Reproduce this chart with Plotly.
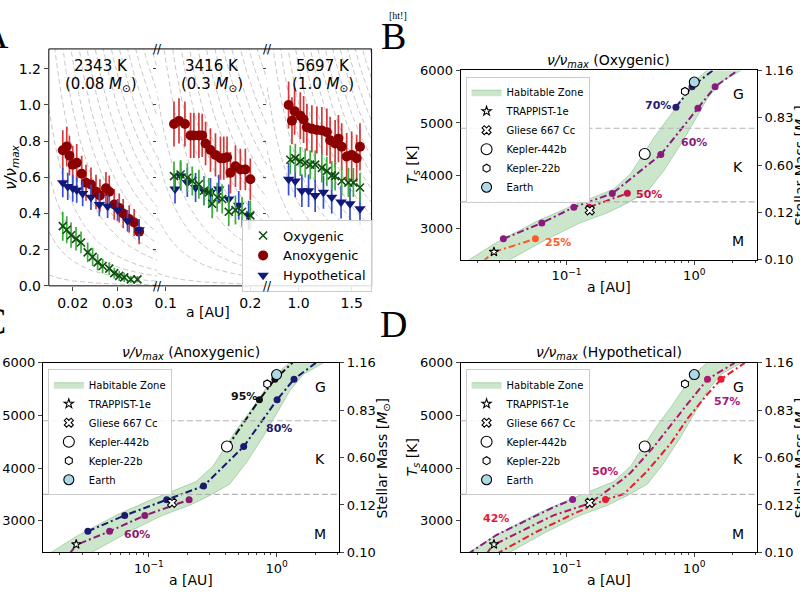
import math
import numpy as np
import plotly.graph_objects as go

W, H = 800, 600
def PX(x): return x / W
def PY(y): return 1 - y / H

FONT = "DejaVu Sans"

# ---------------- Panel A data ----------------
host_temp = ["2343 K", "3416 K", "5697 K"]
host_mass = ["0.08", "0.3", "1.0"]

s1_anox_a = [0.01778, 0.01867, 0.01926, 0.0200, 0.02089, 0.0220, 0.02296, 0.02407, 0.02519,
             0.02607, 0.02741, 0.02815, 0.02926, 0.03037, 0.03126, 0.03259, 0.0337, 0.03481]
s1_anox_nu = [0.75, 0.77, 0.72, 0.67, 0.68, 0.62, 0.57, 0.56, 0.52, 0.50, 0.54, 0.52, 0.45,
              0.43, 0.40, 0.37, 0.35, 0.30]
s1_anox_err = [0.11, 0.11, 0.11, 0.105, 0.105, 0.10, 0.10, 0.095, 0.095, 0.09, 0.09, 0.09,
               0.085, 0.08, 0.08, 0.075, 0.075, 0.07]
s1_hypo_a = [0.01778, 0.01889, 0.0200, 0.02089, 0.02222, 0.02407, 0.02593, 0.02778, 0.0300,
             0.03222, 0.03481]
s1_hypo_nu = [0.57, 0.55, 0.54, 0.53, 0.51, 0.49, 0.45, 0.44, 0.42, 0.36, 0.31]
s1_hypo_err = [0.08, 0.075, 0.075, 0.07, 0.07, 0.07, 0.065, 0.065, 0.06, 0.06, 0.055]
s1_oxy_a = [0.01778, 0.01867, 0.01963, 0.02074, 0.02185, 0.02333, 0.02444, 0.02556, 0.02667,
            0.02815, 0.02926, 0.03037, 0.03148, 0.03296, 0.03444]
s1_oxy_nu = [0.33, 0.31, 0.28, 0.26, 0.24, 0.185, 0.16, 0.13, 0.11, 0.095, 0.07, 0.055,
             0.047, 0.036, 0.036]
s1_oxy_err = [0.08, 0.075, 0.07, 0.065, 0.06, 0.055, 0.05, 0.045, 0.04, 0.035, 0.03, 0.028,
              0.025, 0.02, 0.018]

s2_anox_a = [0.1098, 0.1157, 0.1227, 0.1294, 0.1333, 0.1392, 0.1431, 0.1471, 0.1529, 0.1588,
             0.1647, 0.1686, 0.1725, 0.1765, 0.1824, 0.1882, 0.1941, 0.2000]
s2_anox_nu = [0.895, 0.912, 0.895, 0.832, 0.832, 0.832, 0.832, 0.787, 0.751, 0.724, 0.706,
              0.706, 0.711, 0.625, 0.661, 0.643, 0.643, 0.589]
s2_anox_err = [0.125] * 6 + [0.12] * 6 + [0.115] * 6
s2_oxy_a = [0.1098, 0.1176, 0.1255, 0.1314, 0.1392, 0.1451, 0.1510, 0.1549, 0.1608, 0.1667,
            0.1745, 0.1824, 0.1902, 0.2000]
s2_oxy_nu = [0.607, 0.616, 0.598, 0.58, 0.562, 0.526, 0.517, 0.454, 0.49, 0.48, 0.41, 0.419,
             0.41, 0.39]
s2_oxy_err = [0.08] * 14
s2_hypo_a = [0.1110, 0.1176, 0.1255, 0.1353, 0.1451, 0.1529, 0.1627, 0.1745, 0.1863, 0.1980]
s2_hypo_nu = [0.535, 0.607, 0.571, 0.544, 0.526, 0.517, 0.535, 0.48, 0.445, 0.39]
s2_hypo_err = [0.08] * 10

s3_anox_a = [0.906, 0.9375, 0.9625, 1.016, 1.047, 1.078, 1.125, 1.172, 1.219, 1.266, 1.297,
             1.344, 1.375, 1.406, 1.453, 1.500, 1.547, 1.578]
s3_anox_nu = [1.0, 0.913, 0.966, 0.94, 0.92, 0.877, 0.868, 0.862, 0.859, 0.85, 0.805, 0.787,
              0.814, 0.769, 0.715, 0.724, 0.706, 0.769]
s3_anox_err = [0.13] * 18
s3_oxy_a = [0.922, 0.969, 1.016, 1.0625, 1.109, 1.156, 1.219, 1.266, 1.3125, 1.344, 1.406,
            1.469, 1.516, 1.578]
s3_oxy_nu = [0.697, 0.706, 0.688, 0.679, 0.67, 0.67, 0.652, 0.634, 0.611, 0.607, 0.58, 0.571,
             0.571, 0.544]
s3_oxy_err = [0.08] * 14
s3_hypo_a = [0.906, 0.968, 1.031, 1.094, 1.156, 1.234, 1.312, 1.40, 1.484, 1.578]
s3_hypo_nu = [0.589, 0.58, 0.526, 0.526, 0.499, 0.517, 0.49, 0.463, 0.454, 0.427]
s3_hypo_err = [0.09] * 10

# decorative guide curves in panel A: where each dashed curve meets the top / left edge
guide_top_1 = [0.0160, 0.0178, 0.0196, 0.0214, 0.0232, 0.0250, 0.0268, 0.0286, 0.0304,
               0.0322, 0.0340, 0.0358, 0.0376]
guide_left_1 = [0.06, 0.30, 0.62, 0.98]
guide_top_2 = [0.098, 0.108, 0.118, 0.128, 0.138, 0.148, 0.158, 0.168, 0.178, 0.188,
               0.198, 0.208, 0.218]
guide_left_2 = [0.07, 0.38, 0.72, 1.05]
guide_top_3 = [0.76, 0.83, 0.90, 0.97, 1.04, 1.11, 1.18, 1.25, 1.32, 1.39, 1.46, 1.53,
               1.60, 1.67]
guide_left_3 = [0.08, 0.40, 0.75, 1.10]

# ---------------- Panels B-D data ----------------
hz_inner_a = [0.0150, 0.0164, 0.0282, 0.0583, 0.107, 0.163, 0.2345, 0.317, 0.484, 0.655,
              0.834, 1.06, 1.27, 1.40]
hz_inner_T = [2300, 2368, 2729, 3131, 3411, 3598, 3745, 4037, 4723, 5159, 5533, 5844, 6000, 6100]
hz_outer_a = [0.031, 0.0339, 0.070, 0.128, 0.2075, 0.2985, 0.4287, 0.58, 0.785, 1.0, 1.27,
              1.62, 2.33, 2.60]
hz_outer_T = [2300, 2368, 2791, 3103, 3290, 3477, 3695, 4100, 4598, 5034, 5470, 5781, 6000, 6100]

planet_names = ["TRAPPIST-1e", "Gliese 667 Cc", "Kepler-442b", "Kepler-22b", "Earth"]
planet_a = [0.027, 0.152, 0.409, 0.845, 1.0]
planet_T = [2550, 3340, 4410, 5600, 5778]

class_boundaries_T = [4900, 3500]
class_labels = ["G", "K", "M"]
class_label_T = [5550, 4170, 2750]
class_label_a = 2.2

mass_tick_T = [6000, 5100, 4200, 3300, 2400]
mass_tick_text = ["1.16", "0.83", "0.60", "0.12", "0.10"]

# Oxygenic
oxy25_a = [0.0222, 0.027, 0.057]; oxy25_T = [2369, 2550, 2800]
oxy25_dot_a = [0.057]; oxy25_dot_T = [2800]
oxy50_a = [0.150, 0.299]; oxy50_T = [3400, 3664]
oxy50_dot_a = [0.150, 0.299]; oxy50_dot_T = [3400, 3664]
oxy60_a = [0.032, 0.064, 0.114, 0.228, 0.547, 1.069, 1.456, 2.19]
oxy60_T = [2800, 3100, 3400, 3660, 4400, 5280, 5690, 6000]
oxy60_dot_a = [0.032, 0.064, 0.114, 0.228, 0.547, 1.069, 1.456]
oxy60_dot_T = [2800, 3100, 3400, 3660, 4400, 5280, 5690]
oxy70_a = [0.718, 0.96, 1.40]; oxy70_T = [5300, 5690, 6000]
oxy70_dot_a = [0.718, 0.96]; oxy70_dot_T = [5300, 5690]

# Anoxygenic
anox60_a = [0.0239, 0.027, 0.0493, 0.093, 0.2066]; anox60_T = [2368, 2540, 2800, 3100, 3400]
anox60_dot_a = [0.0493, 0.093, 0.2066]; anox60_dot_T = [2800, 3100, 3400]
anox80_a = [0.0333, 0.0647, 0.138, 0.268, 0.553, 1.01, 1.37, 2.03]
anox80_T = [2800, 3100, 3400, 3660, 4410, 5300, 5690, 6000]
anox80_dot_a = [0.0333, 0.0647, 0.138, 0.268, 0.553, 1.01, 1.37]
anox80_dot_T = [2800, 3100, 3400, 3660, 4410, 5300, 5690]
anox95_a = [0.41, 0.734, 0.97, 1.33]; anox95_T = [4400, 5300, 5690, 6000]
anox95_dot_a = [0.41, 0.734, 0.97]; anox95_dot_T = [4400, 5300, 5690]

# Hypothetical
hypP_a = [0.0169, 0.0282, 0.0518, 0.079, 0.1115]; hypP_T = [2368, 2729, 3040, 3258, 3402]
hypP_dot_a = [0.1115]; hypP_dot_T = [3402]
hypM_a = [0.0236, 0.0263, 0.0432, 0.079, 0.152, 0.265, 0.317, 0.484, 0.885, 1.27, 2.07]
hypM_T = [2368, 2530, 2791, 3103, 3333, 3757, 3912, 4411, 5221, 5690, 6000]
hypM_dot_a = [1.27]; hypM_dot_T = [5690]
hypR_a = [0.0282, 0.0583, 0.107, 0.2018, 0.281, 0.428, 0.655, 0.885, 1.27, 1.62, 2.48]
hypR_T = [2368, 2791, 3103, 3402, 3508, 3944, 4473, 4940, 5408, 5690, 6000]
hypR_dot_a = [0.2018, 1.62]; hypR_dot_T = [3402, 5690]

# ---------------- figure ----------------
fig = go.Figure()
layout = dict(width=W, height=H, margin=dict(l=0, r=0, t=0, b=0),
              paper_bgcolor="white", plot_bgcolor="white",
              font=dict(family=FONT, size=13, color="black"), showlegend=True)
ann = []
shapes = []

# Panel A axes
segs = [("x", "y", [0.01467, 0.03889], [46, 155], [0.02, 0.03], ["0.02", "0.03"]),
        ("x2", "y2", [0.0902, 0.2197], [155, 265], [0.1, 0.2], ["0.1", "0.2"]),
        ("x3", "y3", [0.7026, 1.6876], [265, 370], [1.0, 1.5], ["1.0", "1.5"])]
A_top, A_bot = 43, 286
for i, (xa, ya, xr, dom, tv, tt) in enumerate(segs):
    xk = "xaxis" if i == 0 else "xaxis%d" % (i + 1)
    yk = "yaxis" if i == 0 else "yaxis%d" % (i + 1)
    layout[xk] = dict(domain=[PX(dom[0]), PX(dom[1])], range=xr, anchor=ya,
                      tickvals=tv, ticktext=tt, ticks="outside", ticklen=4,
                      showgrid=False, zeroline=False, showline=False,
                      tickfont=dict(size=14))
    ydict = dict(domain=[PY(A_bot), PY(A_top)], range=[0, 1.31], anchor=xa,
                 tickvals=[0, 0.2, 0.4, 0.6, 0.8, 1.0, 1.2],
                 ticks="outside", showgrid=False, zeroline=False, showline=False,
                 tickfont=dict(size=14))
    if i == 0:
        ydict.update(ticktext=["0.0", "0.2", "0.4", "0.6", "0.8", "1.0", "1.2"], ticklen=4)
    else:
        ydict.update(showticklabels=False, ticklen=3, matches="y")
    layout[yk] = ydict

guides = [(guide_top_1, guide_left_1), (guide_top_2, guide_left_2), (guide_top_3, guide_left_3)]
NPOW = 2.5
for (xa, ya, xr, dom, tv, tt), (gt, gl) in zip(segs, guides):
    xs = np.linspace(xr[0], xr[1], 120)
    consts = [1.31 * t ** NPOW for t in gt] + [v * xr[0] ** NPOW for v in gl]
    for c in consts:
        fig.add_trace(go.Scatter(x=xs, y=c / xs ** NPOW, mode="lines", xaxis=xa, yaxis=ya,
                                 line=dict(color="#c8c8c8", width=1, dash="5px,3px"),
                                 showlegend=False, hoverinfo="skip"))

A_series = [
    ("Anoxygenic", "circle", "#8b0000", "#d43a3a", 10, 2,
     [(s1_anox_a, s1_anox_nu, s1_anox_err), (s2_anox_a, s2_anox_nu, s2_anox_err),
      (s3_anox_a, s3_anox_nu, s3_anox_err)]),
    ("Hypothetical", "triangle-down", "#10187a", "#3a4ed0", 10, 3,
     [(s1_hypo_a, s1_hypo_nu, s1_hypo_err), (s2_hypo_a, s2_hypo_nu, s2_hypo_err),
      (s3_hypo_a, s3_hypo_nu, s3_hypo_err)]),
    ("Oxygenic", "x-thin", "#124d12", "#3cae3c", 8, 1,
     [(s1_oxy_a, s1_oxy_nu, s1_oxy_err), (s2_oxy_a, s2_oxy_nu, s2_oxy_err),
      (s3_oxy_a, s3_oxy_nu, s3_oxy_err)]),
]
for name, sym, mc, ec, sz, rank, parts in A_series:
    for j, ((xa, ya, *_), (xv, yv, ev)) in enumerate(zip(segs, parts)):
        fig.add_trace(go.Scatter(
            x=xv, y=yv, mode="markers", xaxis=xa, yaxis=ya, name=name,
            marker=dict(symbol=sym, color=mc, size=sz,
                        line=dict(color=mc, width=1.6 if sym == "x-thin" else 0)),
            error_y=dict(type="data", array=ev, color=ec, thickness=1.7, width=0),
            showlegend=(j == 0), legend="legend", legendrank=rank))

layout["legend"] = dict(x=PX(240), y=PY(218), xanchor="left", yanchor="top",
                        bgcolor="rgba(255,255,255,0.85)", bordercolor="#cccccc", borderwidth=1,
                        font=dict(size=13), tracegroupgap=0)

shapes.append(dict(type="rect", xref="paper", yref="paper", x0=PX(46), x1=PX(370),
                   y0=PY(A_bot), y1=PY(A_top), line=dict(color="black", width=1), layer="above"))
for bx in [155, 265]:
    for by in [A_top, A_bot]:
        ann.append(dict(xref="paper", yref="paper", x=PX(bx), y=PY(by), text="//",
                        showarrow=False, font=dict(size=12), xanchor="center", yanchor="middle"))
seg_centers = [98, 210, 321]
for cx, t, m in zip(seg_centers, host_temp, host_mass):
    ann.append(dict(xref="paper", yref="paper", x=PX(cx), y=PY(61), text=t, showarrow=False,
                    font=dict(size=15), xanchor="center", yanchor="middle"))
    ann.append(dict(xref="paper", yref="paper", x=PX(cx), y=PY(80),
                    text="(%s <i>M</i><sub>⊙</sub>)" % m, showarrow=False,
                    font=dict(size=15), xanchor="center", yanchor="middle"))
ann.append(dict(xref="paper", yref="paper", x=PX(9), y=PY(164),
                text="<i>ν/ν<sub>max</sub></i>", textangle=-90, showarrow=False,
                font=dict(size=15), xanchor="center", yanchor="middle"))
ann.append(dict(xref="paper", yref="paper", x=PX(206), y=PY(313), text="a [AU]",
                showarrow=False, font=dict(size=14), xanchor="center", yanchor="middle"))

# Panels B, C, D
minor_vals = [0.02, 0.03, 0.04, 0.05, 0.06, 0.07, 0.08, 0.09,
              0.2, 0.3, 0.4, 0.5, 0.6, 0.7, 0.8, 0.9, 2, 3]
panels = [
    dict(xa="x4", ya="y4", yr="y5", leg="legend2", left=459.3, top=65, title="Oxygenic",
         lines=[(oxy25_a, oxy25_T, oxy25_dot_a, oxy25_dot_T, "#ff5a24"),
                (oxy50_a, oxy50_T, oxy50_dot_a, oxy50_dot_T, "#c8124e"),
                (oxy60_a, oxy60_T, oxy60_dot_a, oxy60_dot_T, "#8a1a80"),
                (oxy70_a, oxy70_T, oxy70_dot_a, oxy70_dot_T, "#2c1a70")],
         labels=[(0.0863, 2730, "25%", "#ff5a24"), (0.442, 3649, "50%", "#c8124e"),
                 (0.987, 4636, "60%", "#8a1a80"), (0.52, 5336, "70%", "#2c1a70")],
         ltitle=True),
    dict(xa="x6", ya="y6", yr="y7", leg="legend3", left=40, top=365, title="Anoxygenic",
         lines=[(anox60_a, anox60_T, anox60_dot_a, anox60_dot_T, "#8b1a72"),
                (anox80_a, anox80_T, anox80_dot_a, anox80_dot_T, "#1b1a6e"),
                (anox95_a, anox95_T, anox95_dot_a, anox95_dot_T, "#111111")],
         labels=[(0.0805, 2744, "60%", "#8b1a72"), (1.037, 4761, "80%", "#1b1a6e"),
                 (0.552, 5355, "95%", "#111111")],
         ltitle=False),
    dict(xa="x8", ya="y8", yr="y9", leg="legend4", left=459.3, top=365, title="Hypothetical",
         lines=[(hypP_a, hypP_T, hypP_dot_a, hypP_dot_T, "#8b1a8b"),
                (hypM_a, hypM_T, hypM_dot_a, hypM_dot_T, "#b5166c"),
                (hypR_a, hypR_T, hypR_dot_a, hypR_dot_T, "#e81a36")],
         labels=[(0.0279, 3037, "42%", "#e81a36"), (0.1997, 3944, "50%", "#b5166c"),
                 (1.789, 5258, "57%", "#a3197a")],
         ltitle=True),
]
PW, PH = 297.4, 194.3
planet_sym = ["star", "x", "circle", "hexagon", "circle"]
planet_fill = ["white", "white", "white", "white", "#add8e6"]
planet_size = [7, 8, 11, 8, 10]

for p in panels:
    xa, ya, yr = p["xa"], p["ya"], p["yr"]
    l, t = p["left"], p["top"]
    r, b = l + PW, t + PH
    n = xa[1:]
    layout["xaxis" + n] = dict(domain=[PX(l), PX(r)], type="log", range=[-1.83, 0.49], anchor=ya,
                               tickvals=[0.1, 1], ticktext=["10<sup>−1</sup>", "10<sup>0</sup>"],
                               ticks="outside", ticklen=4, showline=True, mirror=True,
                               linecolor="black", linewidth=1, showgrid=False, zeroline=False,
                               minor=dict(tickvals=minor_vals, ticks="outside", ticklen=2,
                                          showgrid=False),
                               tickfont=dict(size=13))
    layout["yaxis" + ya[1:]] = dict(domain=[PY(b), PY(t)], range=[2400, 6000], anchor=xa,
                                    tickvals=[3000, 4000, 5000, 6000], ticks="outside", ticklen=4,
                                    showline=True, mirror=True, linecolor="black", linewidth=1,
                                    showgrid=False, zeroline=False, tickfont=dict(size=13))
    layout["yaxis" + yr[1:]] = dict(overlaying=ya, side="right", anchor=xa, range=[2400, 6000],
                                    tickvals=mass_tick_T, ticktext=mass_tick_text, ticks="outside",
                                    ticklen=4, showgrid=False, zeroline=False, showline=False,
                                    tickfont=dict(size=13))
    fig.add_trace(go.Scatter(x=[None], y=[None], xaxis=xa, yaxis=yr, showlegend=False,
                             hoverinfo="skip"))
    # habitable zone
    fig.add_trace(go.Scatter(x=hz_inner_a + hz_outer_a[::-1], y=hz_inner_T + hz_outer_T[::-1],
                             mode="lines", fill="toself", fillcolor="rgba(0,128,0,0.2)",
                             line=dict(color="rgba(0,128,0,0.25)", width=1),
                             xaxis=xa, yaxis=ya, name="Habitable Zone", legend=p["leg"]))
    for (la, lT, da, dT, col) in p["lines"]:
        fig.add_trace(go.Scatter(x=la, y=lT, mode="lines", xaxis=xa, yaxis=ya,
                                 line=dict(color=col, width=2, dash="7px,3px,2px,3px"),
                                 showlegend=False, hoverinfo="skip"))
        fig.add_trace(go.Scatter(x=da, y=dT, mode="markers", xaxis=xa, yaxis=ya,
                                 marker=dict(color=col, size=7), showlegend=False,
                                 hoverinfo="skip"))
    for nm, a, T, sym, fc, sz in zip(planet_names, planet_a, planet_T, planet_sym,
                                     planet_fill, planet_size):
        fig.add_trace(go.Scatter(x=[a], y=[T], mode="markers", xaxis=xa, yaxis=ya, name=nm,
                                 marker=dict(symbol=sym, color=fc, size=sz,
                                             line=dict(color="black", width=1.1)),
                                 legend=p["leg"]))
    for yv in class_boundaries_T:
        shapes.append(dict(type="line", xref=xa + " domain", yref=ya, x0=0, x1=1, y0=yv, y1=yv,
                           line=dict(color="#b4b4b4", width=1.2, dash="6px,3px"), layer="above"))
    for lab, T in zip(class_labels, class_label_T):
        ann.append(dict(xref=xa, yref=ya, x=math.log10(class_label_a), y=T, text=lab,
                        showarrow=False, font=dict(size=14), xanchor="center", yanchor="middle"))
    for (a, T, txt, col) in p["labels"]:
        ann.append(dict(xref=xa, yref=ya, x=math.log10(a), y=T, text="<b>%s</b>" % txt,
                        showarrow=False, font=dict(size=11, color=col),
                        xanchor="center", yanchor="middle"))
    cx = (l + r) / 2
    ann.append(dict(xref="paper", yref="paper", x=PX(cx), y=PY(t - 10),
                    text="<i>ν/ν<sub>max</sub></i> (%s)" % p["title"], showarrow=False,
                    font=dict(size=14), xanchor="center", yanchor="middle"))
    ann.append(dict(xref="paper", yref="paper", x=PX(cx), y=PY(b + 28), text="a [AU]",
                    showarrow=False, font=dict(size=14), xanchor="center", yanchor="middle"))
    if p["ltitle"]:
        ann.append(dict(xref="paper", yref="paper", x=PX(l - 48), y=PY((t + b) / 2),
                        text="<i>T<sub>s</sub></i> [K]", textangle=-90, showarrow=False,
                        font=dict(size=14), xanchor="center", yanchor="middle"))
    ann.append(dict(xref="paper", yref="paper", x=PX(r + 44), y=PY((t + b) / 2),
                    text="Stellar Mass [<i>M</i><sub>⊙</sub>]", textangle=-90, showarrow=False,
                    font=dict(size=14), xanchor="center", yanchor="middle"))
    layout[p["leg"]] = dict(x=PX(l + 5), y=PY(t + 6.5), xanchor="left", yanchor="top",
                            bgcolor="rgba(255,255,255,0.85)", bordercolor="#cccccc",
                            borderwidth=1, font=dict(size=10), tracegroupgap=0)

# panel letters
for txt, x, y in [("A", -8, 29), ("B", 392, 30), ("C", -10, 322), ("D", 392, 325)]:
    ann.append(dict(xref="paper", yref="paper", x=PX(x), y=PY(y), text=txt, showarrow=False,
                    font=dict(family="Liberation Serif", size=38), xanchor="center",
                    yanchor="middle"))
ann.append(dict(xref="paper", yref="paper", x=PX(396), y=PY(9), text="[ht!]", showarrow=False,
                font=dict(family="Liberation Serif", size=10), xanchor="center", yanchor="middle"))

layout["annotations"] = ann
layout["shapes"] = shapes
fig.update_layout(**layout)
fig.write_html("out.html")
